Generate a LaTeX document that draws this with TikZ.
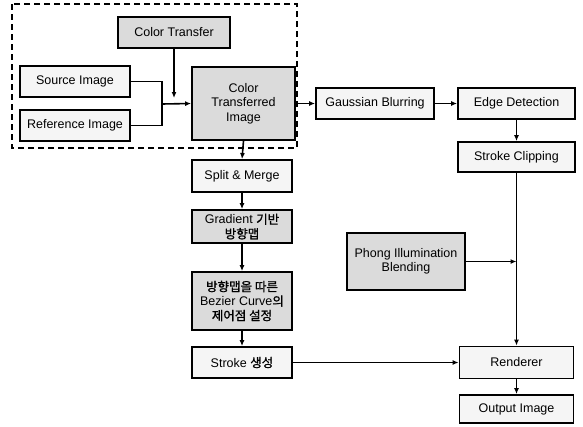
\documentclass[tikz,border=0pt]{standalone}
\usepackage{fontspec}
\setmainfont{Liberation Sans}
\newfontfamily\kr[FakeBold=1.2]{Noto Sans CJK KR}
\usetikzlibrary{arrows.meta}
\begin{document}
\begin{tikzpicture}[x=1pt,y=-1pt,
  box/.style={draw=black,line width=1.8pt,fill=gray!8,align=center,inner sep=1pt,
    font=\fontsize{12.5}{14.5}\selectfont},
  dbox/.style={box,fill=gray!28},
  conn/.style={line width=1.6pt},
  arr/.style={conn,-{Latex[length=6pt,width=5pt]}}]
\useasboundingbox (0,0) rectangle (583,426);
\draw[line width=1.5pt,dash pattern=on 6pt off 4pt] (12,4) rectangle (297,148);
\node[dbox,minimum width=112pt,minimum height=31pt] (ct) at (174,32.5) {Color Transfer};
\node[box,minimum width=110pt,minimum height=31pt] (src) at (75,81.5) {Source Image};
\node[box,minimum width=110pt,minimum height=31pt] (ref) at (75,125.5) {Reference Image};
\node[dbox,minimum width=103pt,minimum height=73pt] (cti) at (243.5,103.5) {Color\\Transferred\\Image};
\node[box,minimum width=118pt,minimum height=31pt] (gb) at (375,103.5) {Gaussian Blurring};
\node[box,minimum width=117pt,minimum height=31pt] (ed) at (516.5,103.5) {Edge Detection};
\node[box,minimum width=117pt,minimum height=30pt] (sc) at (516.5,157) {Stroke Clipping};
\node[box,minimum width=100pt,minimum height=32pt] (sm) at (242,176) {Split \& Merge};
\node[dbox,minimum width=100pt,minimum height=33pt] (gr) at (242,226.5) {Gradient {\kr 기반}\\{\kr 방향맵}};
\node[dbox,minimum width=100pt,minimum height=58pt] (bz) at (242,301) {{\kr 방향맵을 따른}\\Bezier Curve{\kr 의}\\{\kr 제어점 설정}};
\node[box,minimum width=100pt,minimum height=31pt] (sg) at (242,362.5) {Stroke {\kr 생성}};
\node[dbox,minimum width=118pt,minimum height=57pt] (ph) at (406,261.5) {Phong Illumination\\Blending};
\node[box,minimum width=114pt,minimum height=32pt] (rd) at (516.5,362.5) {Renderer};
\node[box,minimum width=114pt,minimum height=28pt] (oi) at (516.5,409) {Output Image};
\coordinate (j) at (162,104);
\coordinate (ctend) at (174,98);
\draw[conn] (src.east) -| (j);
\draw[conn] (ref.east) -| (j);
\draw[arr] (j) -- (cti.west);
\draw[arr] (ct.south) -- (ctend);
\draw[arr] (cti.east) -- (gb.west);
\draw[arr] (gb.east) -- (ed.west);
\draw[arr] (ed.south) -- (sc.north);
\draw[arr] (sc.south) -- (rd.north);
\draw[arr] (ph.east) -- (ph.east -| sc.south);
\draw[arr] (cti.south) -- (sm.north);
\draw[arr] (sm.south) -- (gr.north);
\draw[arr] (gr.south) -- (bz.north);
\draw[arr] (bz.south) -- (sg.north);
\draw[arr] (sg.east) -- (rd.west);
\draw[arr] (rd.south) -- (oi.north);
\end{tikzpicture}
\end{document}
